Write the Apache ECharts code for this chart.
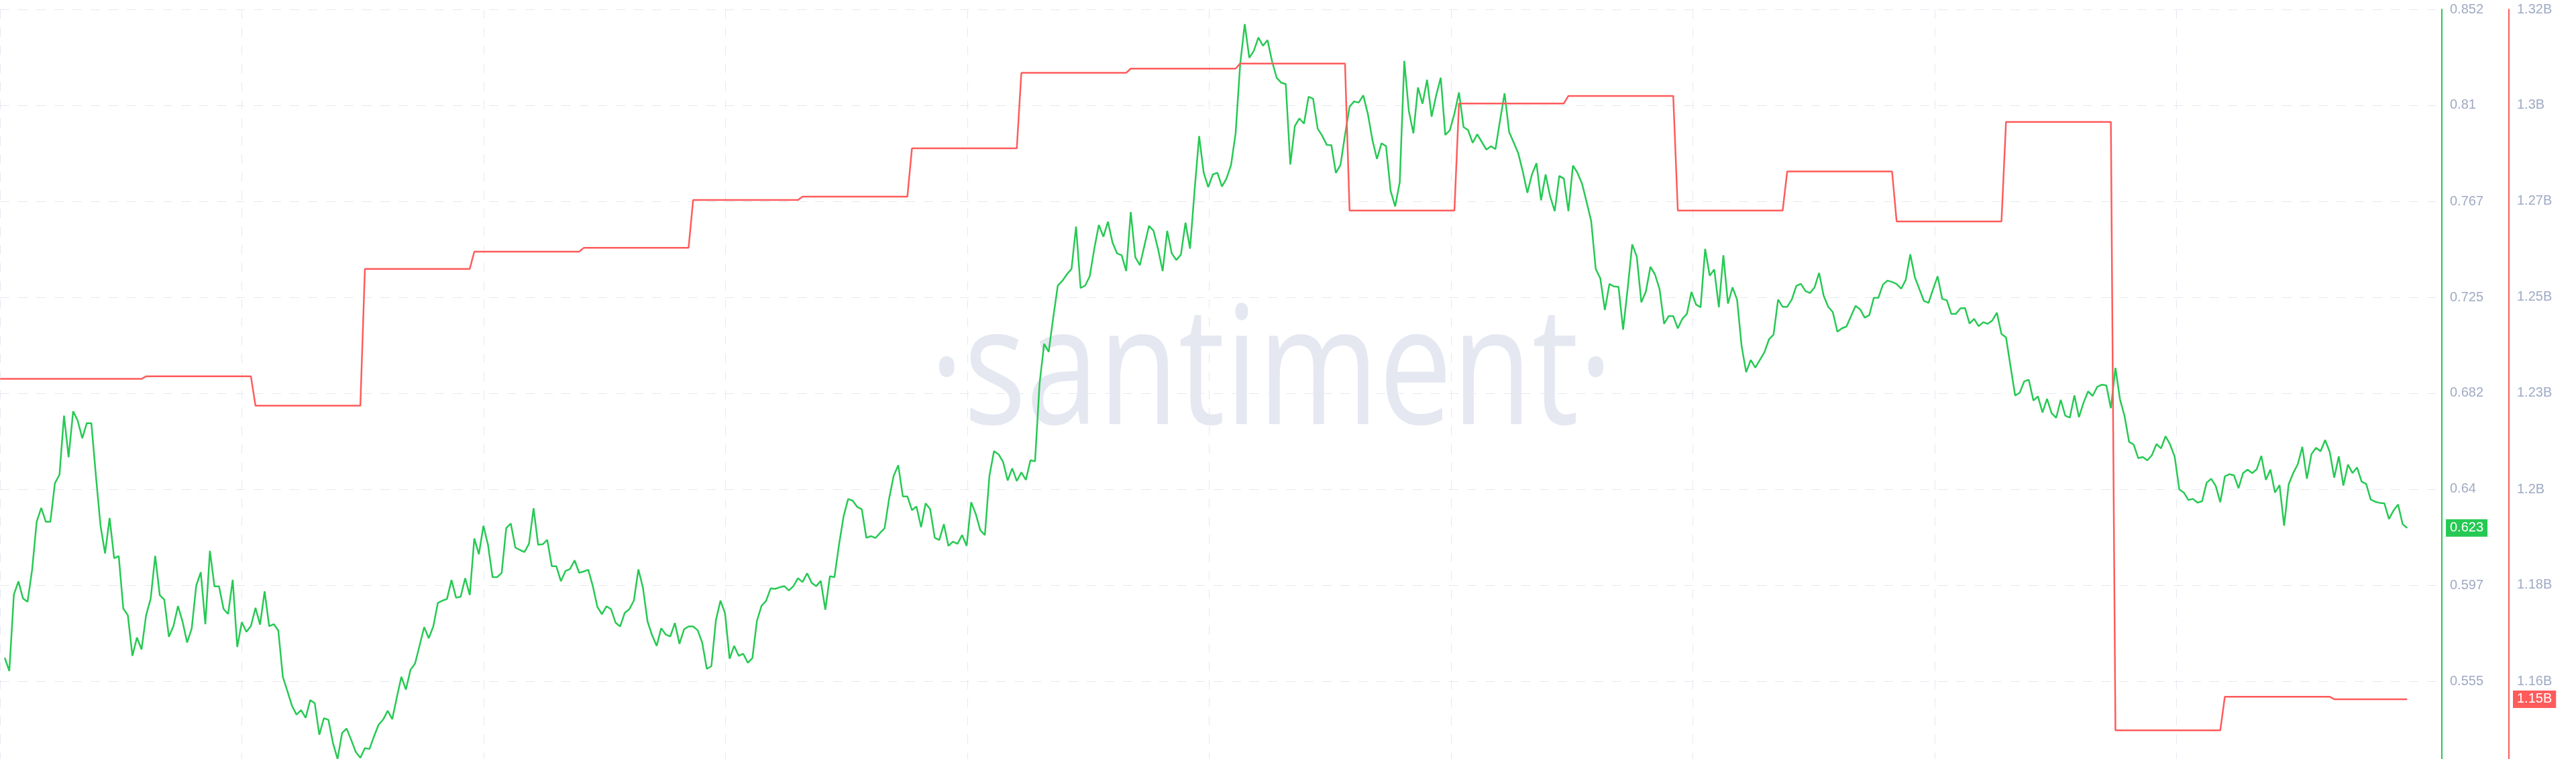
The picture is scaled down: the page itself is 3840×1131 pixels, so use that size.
<!DOCTYPE html>
<html>
<head>
<meta charset="utf-8">
<script src="https://cdn.jsdelivr.net/npm/echarts@6/dist/echarts.min.js"></script>
<style>
html,body{margin:0;padding:0;background:#ffffff;}
#chart{width:3840px;height:1131px;}
</style>
</head>
<body>
<div id="chart"></div>
<script>
// Hourly price (USD), hour 0 .. 527
const price = [
0.5653,0.5595,0.5933,0.5991,0.5916,0.5901,0.6042,0.6255,0.6316,0.6255,
0.6255,0.6425,0.6463,0.6724,0.6540,0.6743,0.6702,0.6624,0.6691,0.6690,
0.6456,0.6238,0.6115,0.6271,0.6093,0.6103,0.5871,0.5841,0.5662,0.5743,
0.5690,0.5841,0.5914,0.6104,0.5930,0.5910,0.5746,0.5793,0.5882,0.5813,
0.5721,0.5782,0.5972,0.6032,0.5802,0.6126,0.5969,0.5969,0.5869,0.5847,
0.5998,0.5701,0.5811,0.5768,0.5794,0.5874,0.5800,0.5947,0.5793,0.5802,
0.5774,0.5569,0.5506,0.5441,0.5402,0.5422,0.5388,0.5466,0.5453,0.5313,
0.5386,0.5379,0.5276,0.5206,0.5321,0.5340,0.5290,0.5237,0.5211,0.5254,
0.5250,0.5306,0.5357,0.5380,0.5419,0.5382,0.5478,0.5569,0.5513,0.5600,
0.5628,
0.5708,0.5789,0.5740,0.5792,0.5896,0.5906,0.5913,0.5997,0.5919,0.5923,
0.6005,0.5931,0.6181,0.6111,0.6237,0.6153,0.6010,0.6010,0.6028,0.6227,
0.6247,0.6141,0.6130,0.6121,0.6158,0.6314,0.6153,0.6155,0.6175,0.6058,
0.6058,0.5992,0.6037,0.6046,0.6084,0.6029,0.6035,0.6042,0.5970,0.5878,
0.5846,0.5881,0.5868,0.5808,0.5792,0.5852,0.5868,0.5906,0.6044,0.5962,
0.5814,0.5753,0.5706,0.5784,0.5756,0.5748,0.5807,0.5715,0.5779,0.5792,
0.5792,0.5775,0.5720,0.5604,0.5616,0.5820,0.5906,0.5850,0.5649,0.5706,
0.5662,0.5671,0.5631,0.5652,0.5817,0.5883,0.5905,0.5960,0.5958,0.5965,
0.5970,0.5951,0.5970,0.6005,0.5988,0.6027,0.5985,0.5970,
0.5993,0.5866,0.6014,0.6010,0.6153,0.6278,0.6355,0.6348,0.6320,0.6310,
0.6184,0.6191,0.6183,0.6205,0.6226,0.6358,0.6458,0.6505,0.6367,0.6367,
0.6306,0.6322,0.6231,0.6336,0.6310,0.6184,0.6174,0.6244,0.6148,0.6167,
0.6157,0.6196,0.6148,0.6341,0.6289,0.6217,0.6196,0.6458,0.6567,0.6553,
0.6519,0.6437,0.6491,0.6435,0.6473,0.6440,0.6527,0.6522,0.6867,0.7041,
0.7006,0.7159,0.7299,0.7320,0.7349,0.7372,0.7560,0.7288,0.7299,0.7340,
0.7462,0.7567,0.7515,0.7581,0.7489,0.7441,0.7433,0.7363,0.7624,0.7424,
0.7389,0.7476,0.7563,0.7541,0.7459,0.7363,0.7541,0.7441,0.7412,0.7436,
0.7577,0.7462,0.7720,0.7960,0.7798,0.7734,0.7790,0.7798,0.7737,0.7772,
0.7832,0.7972,0.8277,0.8455,0.8306,0.8337,0.8396,0.8359,0.8384,0.8290,
0.8218,0.8196,0.8190,0.7834,0.8005,0.8038,0.8015,0.8134,0.8125,0.7993,
0.7961,0.7921,0.7920,0.7797,0.7832,0.7965,0.8090,0.8113,0.8108,0.8140,
0.8059,0.7944,0.7859,0.7928,0.7915,0.7718,0.7649,0.7755,0.8292,0.8071,
0.7972,0.8175,0.8103,0.8209,0.8046,0.8140,0.8218,0.7965,0.7986,0.8059,
0.8153,0.8000,0.7986,0.7930,0.7968,0.7934,0.7900,0.7915,0.7902,0.8028,
0.8149,0.7978,0.7932,0.7884,0.7803,0.7709,0.7790,0.7840,0.7676,0.7790,
0.7693,0.7628,0.7784,0.7772,0.7628,0.7830,0.7797,0.7749,0.7668,0.7584,
0.7372,0.7331,0.7191,0.7306,0.7295,0.7293,0.7104,0.7285,0.7481,
0.7427,0.7225,0.7273,0.7382,0.7348,0.7283,0.7130,0.7164,0.7164,0.7110,
0.7152,0.7174,0.7271,0.7215,0.7203,0.7461,0.7343,0.7370,0.7203,0.7433,
0.7219,0.7291,0.7237,0.7031,0.6916,0.6970,0.6936,0.6970,0.7004,0.7061,
0.7082,0.7237,0.7205,0.7205,0.7237,0.7297,0.7307,0.7275,0.7266,0.7291,
0.7355,0.7254,0.7205,0.7182,0.7095,0.7110,0.7118,0.7164,0.7209,0.7194,
0.7157,0.7168,0.7245,0.7245,0.7303,0.7321,0.7315,0.7306,0.7285,0.7324,
0.7437,0.7336,0.7283,0.7231,0.7222,0.7283,0.7340,0.7240,0.7234,0.7174,
0.7174,0.7198,0.7200,0.7131,0.7152,0.7119,0.7137,0.7130,0.7145,0.7179,
0.7085,0.7070,0.6940,0.6813,0.6825,0.6876,0.6882,0.6791,0.6809,0.6738,
0.6798,0.6735,0.6714,0.6794,0.6724,0.6715,0.6813,0.6717,0.6781,0.6831,
0.6811,0.6851,0.6861,0.6858,0.6757,0.6935,0.6796,0.6722,0.6608,0.6596,
0.6536,0.6541,0.6526,0.6549,0.6598,0.6579,0.6633,0.6596,0.6542,0.6398,
0.6384,0.6351,0.6356,0.6339,0.6345,0.6427,0.6445,0.6413,0.6341,0.6455,
0.6465,0.6460,0.6403,0.6470,0.6485,0.6470,0.6487,0.6546,0.6440,0.6485,
0.6384,0.6417,0.6237,0.6420,0.6470,0.6509,0.6586,0.6445,0.6554,0.6582,
0.6566,0.6616,0.6564,0.6450,0.6544,0.6415,0.6507,0.6470,0.6495,0.6432,
0.6422,0.6353,0.6343,0.6338,0.6336,0.6267,0.6304,0.6331,0.6244,0.6227
];

// Second metric: one level per period; hour at which each level starts
const supplyStartHours = [-1,31,55,79,103,127,151,175,199,223,247,271,295,319,343,367,391,415,439,463,487,511];
const supplyLevelsB = [1.2304,1.2310,1.2240,1.2566,1.2607,1.2616,1.2730,1.2738,1.2853,1.3033,1.3043,
                       1.3055,1.2705,1.2960,1.2978,1.2705,1.2798,1.2679,1.2916,1.1467,1.1547,1.1541];

// Axis tick values
const priceTicks = [0.555,0.5974,0.6399,0.6823,0.7247,0.7671,0.8096,0.852];
const supplyTicksB = [1.1584,1.1813,1.2041,1.2270,1.2499,1.2727,1.2956,1.3184];

// ---- build ----
const GREEN = '#26c953';
const RED = '#ff5b5b';
const LABEL = '#9faac4';
const GRIDC = '#e6e9f1';
const FONT = '"Liberation Sans", Arial, sans-serif';

const xMin = -1.045, xMax = 534.6, xGridStep = 53.046;
const vGrid = [];
for (let k = 0; k < 10; k++) vGrid.push(xMin + k * xGridStep);

const lastHour = price.length - 1;
const priceData = price.map((v, i) => [i, v]);
const supplyData = [];
supplyLevelsB.forEach((lv, k) => {
  const s = supplyStartHours[k];
  const e = k + 1 < supplyStartHours.length ? supplyStartHours[k + 1] - 1 : lastHour;
  supplyData.push([s, lv * 1e9]);
  supplyData.push([e, lv * 1e9]);
});
const lastPrice = price[lastHour];
const lastSupply = supplyLevelsB[supplyLevelsB.length - 1] * 1e9;

const priceMin = 0.52058, priceMax = 0.852;
const supplyMin = 1.13986e9, supplyMax = 1.3184e9;

const fmtPrice = v => String(Number(v.toFixed(3)));
const fmtSupply = v => Number((v / 1e9).toFixed(2)) + 'B';

const dashed = { color: GRIDC, width: 1, type: [14, 13] };

const chart = echarts.init(document.getElementById('chart'), null, { renderer: 'canvas' });
chart.setOption({
  animation: false,
  backgroundColor: '#ffffff',
  grid: { left: 0, right: 200, top: 14, bottom: 0, containLabel: false, outerBoundsMode: 'none' },
  xAxis: {
    type: 'value', min: xMin, max: xMax,
    axisLine: { show: false, onZero: false },
    axisTick: { show: false, customValues: vGrid },
    axisLabel: { show: false, customValues: vGrid },
    splitLine: { show: true, lineStyle: dashed }
  },
  yAxis: [
    {
      type: 'value', position: 'right', offset: 0, min: priceMin, max: priceMax,
      axisLine: { show: true, onZero: false, lineStyle: { color: GREEN, width: 2 } },
      axisTick: { show: false, customValues: priceTicks },
      axisLabel: { show: true, customValues: priceTicks, formatter: fmtPrice, color: LABEL,
                   fontSize: 20, fontFamily: FONT, margin: 12 },
      splitLine: { show: true, lineStyle: dashed }
    },
    {
      type: 'value', position: 'right', offset: 100, min: supplyMin, max: supplyMax,
      axisLine: { show: true, onZero: false, lineStyle: { color: RED, width: 2 } },
      axisTick: { show: false, customValues: supplyTicksB.map(v => v * 1e9) },
      axisLabel: { show: true, customValues: supplyTicksB.map(v => v * 1e9), formatter: fmtSupply,
                   color: LABEL, fontSize: 20, fontFamily: FONT, margin: 12 },
      splitLine: { show: false }
    },
    {
      type: 'value', position: 'right', offset: 0, min: priceMin, max: priceMax,
      axisLine: { show: false, onZero: false }, axisTick: { show: false, customValues: [lastPrice] },
      splitLine: { show: false },
      axisLabel: { show: true, customValues: [lastPrice], margin: 6,
        formatter: v => '{b|' + fmtPrice(v) + '}',
        rich: { b: { backgroundColor: GREEN, color: '#ffffff', fontSize: 20, lineHeight: 20,
                     fontFamily: FONT, padding: [3, 6, 3, 6] } } }
    },
    {
      type: 'value', position: 'right', offset: 100, min: supplyMin, max: supplyMax,
      axisLine: { show: false, onZero: false }, axisTick: { show: false, customValues: [lastSupply] },
      splitLine: { show: false },
      axisLabel: { show: true, customValues: [lastSupply], margin: 6,
        formatter: v => '{b|' + fmtSupply(v) + '}',
        rich: { b: { backgroundColor: RED, color: '#ffffff', fontSize: 20, lineHeight: 20,
                     fontFamily: FONT, padding: [3, 6, 3, 6] } } }
    }
  ],
  graphic: [{
    type: 'text', z: 1, silent: true,
    x: 1895, y: 562, scaleX: 0.794, scaleY: 1,
    style: {
      text: '\u00B7santiment\u00B7',
      font: '245px "Open Sans"',
      fill: '#e5e8f1',
      textAlign: 'center',
      textVerticalAlign: 'middle'
    }
  }],
  series: [
    {
      name: 'Price', type: 'line', xAxisIndex: 0, yAxisIndex: 0, data: priceData,
      showSymbol: false, symbol: 'none', z: 3,
      lineStyle: { color: GREEN, width: 2.5 }, itemStyle: { color: GREEN }
    },
    {
      name: 'Supply', type: 'line', xAxisIndex: 0, yAxisIndex: 1, data: supplyData,
      showSymbol: false, symbol: 'none', z: 4,
      lineStyle: { color: RED, width: 2.5 }, itemStyle: { color: RED }
    }
  ]
});
</script>
</body>
</html>
